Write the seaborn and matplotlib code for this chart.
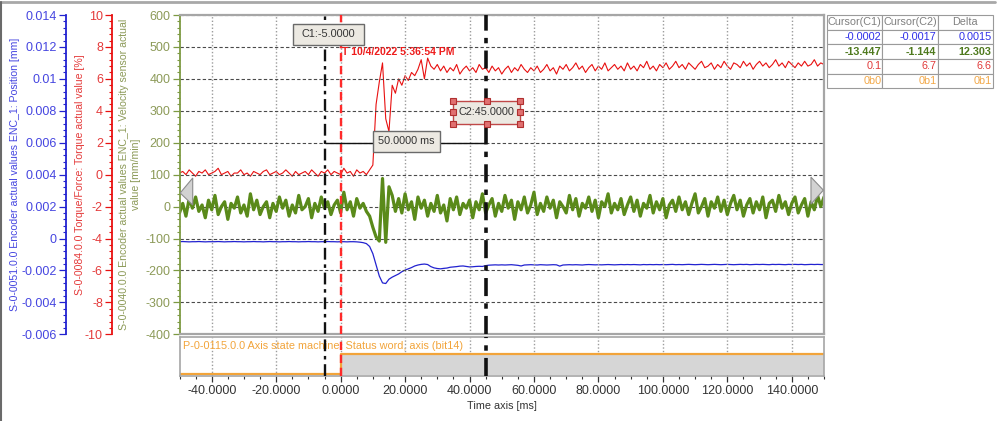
import numpy as np
import matplotlib
matplotlib.use("Agg")
import matplotlib.pyplot as plt
import seaborn as sns
from matplotlib.ticker import MultipleLocator, AutoMinorLocator, FuncFormatter
from matplotlib.patches import Polygon, Rectangle
from matplotlib.lines import Line2D

# recording, one sample per ms
time_ms = np.arange(-50, 151)

torque_pct = [
    0.1, 0.2, 0.0, 0.3, 0.1, -0.1, 0.2, 0.1, 0.3, 0.0,
    0.1, 0.2, 0.4, 0.0, 0.1, 0.2, -0.1, 0.1, 0.1, 0.3,
    0.0, 0.1, -0.1, 0.2, 0.1, 0.0, 0.2, 0.3, 0.0, 0.1,
    0.2, 0.0, 0.1, 0.3, 0.1, -0.1, 0.2, 0.0, 0.1, 0.2,
    0.0, 0.3, 0.1, -0.1, 0.2, 0.1, 0.3, 0.0, 0.2, 0.1,
    0.0, 0.4, 0.1, 0.2, -0.1, 0.3, 0.1, 0.2, 0.0, 0.3,
    0.6, 4.4, 5.8, 7.0, 3.5, 2.7, 5.6, 5.1, 6.0, 5.6,
    6.2, 5.9, 6.4, 6.2, 6.6, 7.2, 6.0, 7.3, 6.8, 6.6,
    6.9, 6.5, 6.8, 6.4, 6.7, 6.5, 6.9, 6.3, 6.6, 6.8,
    6.5, 6.7, 6.4, 6.9, 6.6, 6.7, 6.4, 6.8, 6.5, 6.7,
    6.3, 6.6, 6.8, 6.4, 6.7, 6.5, 6.9, 6.6, 6.4, 6.7,
    6.5, 6.8, 6.4, 6.6, 6.9, 6.5, 6.7, 6.3, 6.8, 6.6,
    6.9, 6.5, 6.7, 7.0, 6.6, 6.8, 6.4, 6.7, 6.9, 6.5,
    6.8, 6.6, 7.0, 6.5, 6.7, 6.9, 6.6, 6.8, 6.5, 7.0,
    6.6, 6.8, 6.5, 6.9, 6.7, 7.1, 6.6, 6.8, 6.5, 6.9,
    6.7, 7.0, 6.6, 6.8, 7.1, 6.7, 6.9, 6.6, 7.0, 6.8,
    6.6, 6.9, 7.1, 6.7, 6.8, 7.0, 6.6, 6.9, 6.7, 7.1,
    6.8, 6.6, 7.0, 6.9, 6.7, 7.1, 6.8, 7.0, 6.6, 6.9,
    7.1, 6.8, 7.0, 6.7, 6.9, 7.2, 6.8, 7.0, 6.7, 7.1,
    6.9, 6.7, 7.0, 6.8, 7.1, 6.8, 6.9, 7.2, 6.8, 7.0,
    6.9,
]

velocity = [
    -20, 10, -30, 25, -5, 30, -15, 5, -35, 20,
    -10, 35, -25, 0, 15, -40, 10, -5, 30, -20,
    5, -30, 40, -10, 20, -25, 0, 15, -35, 10,
    -15, 30, -5, 20, -30, 5, -20, 35, -10, 0,
    25, -35, 10, -15, 30, -5, 15, -25, 5, 20,
    -20, 45, -10, 15, -30, 25, -5, 10, -15, -30,
    -65, -95, -108, 88, -112, 62, 35, -15, 25, -20,
    40, -10, 15, -40, 30, -5, 20, -30, 10, -15,
    35, -20, 5, -45, 25, -10, 30, -25, 10, -5,
    20, -35, 15, -10, 40, -20, 5, 25, -30, 10,
    -15, 35, -5, 20, -40, 15, -10, 30, -20, 5,
    45, -25, 10, -15, 30, -5, 20, -35, 15, 0,
    -20, 35, -10, 25, -30, 10, -5, 30, -15, 20,
    -35, 15, 0, 40, -20, 10, -10, 25, -25, 5,
    30, -15, 20, -30, 10, -5, 35, -20, 15, -10,
    25, -35, 5, 20, -15, 30, -10, 15, -25, 10,
    40, -20, 0, 25, -30, 15, -5, 30, -15, 20,
    -25, 10, 35, -10, 20, -30, 5, 25, -20, 15,
    -10, 30, -35, 10, 20, -15, 35, -5, 15, -25,
    10, 30, -20, 5, 25, -30, 15, -10, 35, 0,
    30,
]

position_mm = [
    -0.00020, -0.00019, -0.00020, -0.00021, -0.00020, -0.00020, -0.00019, -0.00020, -0.00021, -0.00020,
    -0.00020, -0.00020, -0.00019, -0.00020, -0.00021, -0.00020, -0.00020, -0.00019, -0.00020, -0.00020,
    -0.00021, -0.00020, -0.00020, -0.00019, -0.00020, -0.00020, -0.00021, -0.00020, -0.00019, -0.00020,
    -0.00020, -0.00021, -0.00020, -0.00020, -0.00019, -0.00020, -0.00020, -0.00021, -0.00020, -0.00020,
    -0.00019, -0.00020, -0.00020, -0.00021, -0.00020, -0.00020, -0.00019, -0.00020, -0.00020, -0.00021,
    -0.00020, -0.00020, -0.00021, -0.00020, -0.00020, -0.00021, -0.00023, -0.00026, -0.00032, -0.00050,
    -0.00095, -0.00165, -0.00235, -0.00278, -0.00282, -0.00255, -0.00242, -0.00232, -0.00222, -0.00208,
    -0.00198, -0.00190, -0.00182, -0.00172, -0.00166, -0.00162, -0.00160, -0.00163, -0.00176, -0.00184,
    -0.00188, -0.00190, -0.00187, -0.00185, -0.00180, -0.00178, -0.00176, -0.00173, -0.00172, -0.00175,
    -0.00178, -0.00177, -0.00175, -0.00174, -0.00175, -0.00170, -0.00167, -0.00166, -0.00165, -0.00166,
    -0.00165, -0.00166, -0.00165, -0.00164, -0.00166, -0.00168, -0.00172, -0.00166, -0.00165, -0.00164,
    -0.00165, -0.00166, -0.00164, -0.00165, -0.00166, -0.00165, -0.00164, -0.00165, -0.00173, -0.00166,
    -0.00165, -0.00164, -0.00165, -0.00164, -0.00165, -0.00166, -0.00164, -0.00163, -0.00164, -0.00165,
    -0.00164, -0.00165, -0.00164, -0.00163, -0.00164, -0.00165, -0.00164, -0.00163, -0.00164, -0.00163,
    -0.00164, -0.00163, -0.00164, -0.00165, -0.00163, -0.00164, -0.00163, -0.00164, -0.00163, -0.00164,
    -0.00163, -0.00164, -0.00163, -0.00162, -0.00164, -0.00163, -0.00164, -0.00163, -0.00162, -0.00163,
    -0.00164, -0.00163, -0.00162, -0.00163, -0.00164, -0.00163, -0.00162, -0.00163, -0.00164, -0.00163,
    -0.00162, -0.00163, -0.00164, -0.00163, -0.00162, -0.00163, -0.00162, -0.00164, -0.00163, -0.00162,
    -0.00163, -0.00162, -0.00163, -0.00164, -0.00162, -0.00163, -0.00162, -0.00163, -0.00164, -0.00162,
    -0.00163, -0.00162, -0.00163, -0.00162, -0.00164, -0.00163, -0.00162, -0.00163, -0.00162, -0.00163,
    -0.00163,
]

status_t = [-50, 0, 150]
status_bit = [0, 1, 1]

cursor_c1 = -5.0
cursor_c2 = 45.0
trigger_t = 0.0
trigger_label = "T 10/4/2022 5:36:54 PM"

label_pos = "S-0-0051.0.0 Encoder actual values ENC_1: Position [mm]"
label_trq = "S-0-0084.0.0 Torque/Force: Torque actual value [%]"
label_vel = "S-0-0040.0.0 Encoder actual values ENC_1: Velocity sensor actual\nvalue [mm/min]"
label_status = "P-0-0115.0.0 Axis state machine: Status word, axis (bit14)"

table_cols = ["Cursor(C1)", "Cursor(C2)", "Delta"]
table_pos = ["-0.0002", "-0.0017", "0.0015"]
table_vel = ["-13.447", "-1.144", "12.303"]
table_trq = ["0.1", "6.7", "6.6"]
table_bit = ["0b0", "0b1", "0b1"]

BLUE, BLUE_TXT = "#2222d0", "#4545e0"
RED, RED_TXT = "#e81010", "#e43a3a"
GREEN, GREEN_TXT, GREEN_AX = "#5a8a1a", "#8c9a58", "#7d9a42"
ORANGE = "#f2a43a"
FRAME = "#a6a6a6"

sns.set_theme(style="white")
plt.rcParams["font.family"] = ["Liberation Sans", "DejaVu Sans"]
plt.rcParams["axes.unicode_minus"] = False

W, H = 999, 421
fig = plt.figure(figsize=(W / 100, H / 100), dpi=100)
ax = fig.add_axes([179.5 / W, 1 - 334.3 / H, 644.5 / W, 319.3 / H])
ax_s = fig.add_axes([179.5 / W, 1 - 375.5 / H, 644.5 / W, 38.5 / H], sharex=ax)
ax_r = ax.twinx()
ax_b = ax.twinx()
ax.set_zorder(ax_b.get_zorder() + 1)
ax.patch.set_visible(False)

sns.lineplot(x=time_ms, y=position_mm, ax=ax_b, color=BLUE, lw=0.9, legend=False)
sns.lineplot(x=time_ms, y=torque_pct, ax=ax_r, color=RED, lw=0.8, legend=False)
sns.lineplot(x=time_ms, y=velocity, ax=ax, color=GREEN, lw=2.3, legend=False)

ax.set_xlim(-50, 150)
ax.set_ylim(-400, 600)
ax_r.set_ylim(-10, 10)
ax_b.set_ylim(-0.006, 0.014)


def num(v, _):
    v = round(v, 6) + 0.0
    return f"{v:g}"


# y axes stacked on the left
for a, step, col, txt, pos in [(ax, 100, GREEN_AX, GREEN_TXT, None),
                               (ax_r, 2, RED, RED_TXT, -0.1047),
                               (ax_b, 0.002, BLUE, BLUE_TXT, -0.1761)]:
    a.yaxis.set_major_locator(MultipleLocator(step))
    a.yaxis.set_minor_locator(AutoMinorLocator(5))
    a.yaxis.set_major_formatter(FuncFormatter(num))
    a.yaxis.set_ticks_position("left")
    a.yaxis.set_label_position("left")
    a.tick_params(axis="y", which="major", left=True, right=False, length=5, width=0.9,
                  color=col, labelcolor=txt, labelsize=9, pad=1.5)
    a.tick_params(axis="y", which="minor", left=True, right=False, length=2.5, width=0.8, color=col)
    a.spines["left"].set_visible(True)
    a.spines["left"].set_color(col)
    a.spines["left"].set_linewidth(1.3)
    if pos is not None:
        a.spines["left"].set_position(("axes", pos))
        for s in ["right", "top", "bottom"]:
            a.spines[s].set_visible(False)

for s in ["right", "top", "bottom"]:
    ax.spines[s].set_color(FRAME)
    ax.spines[s].set_linewidth(1.6)
ax.tick_params(axis="x", which="both", bottom=False, labelbottom=False)

ax_b.set_ylabel(label_pos, color=BLUE_TXT, fontsize=7.6, va="center")
ax_b.yaxis.set_label_coords(-0.2552, 0.5)
ax_r.set_ylabel(label_trq, color=RED_TXT, fontsize=7.6, va="center")
ax_r.yaxis.set_label_coords(-0.1544, 0.5)
ax.set_ylabel(label_vel, color=GREEN_TXT, fontsize=7.6, va="center", ha="center",
              multialignment="center", linespacing=1.25)
ax.yaxis.set_label_coords(-0.0768, 0.5)

ax.grid(True, axis="y", which="major", color="#4a4a4a", ls=(0, (3, 2)), lw=0.8)
ax.grid(True, axis="x", which="major", color="#9c9c9c", ls=(0, (1, 1.5)), lw=1.0)

# status word strip
s_lo, s_hi = -0.075, 1.85
ax_s.set_ylim(s_lo, s_hi)
ax_s.fill_between(status_t, status_bit, s_lo, step="post", color="#d6d6d6", lw=0)
sns.lineplot(x=status_t, y=status_bit, ax=ax_s, drawstyle="steps-post", color=ORANGE,
             lw=1.6, legend=False)
ax_s.set_yticks([])
ax_s.grid(True, axis="x", which="major", color="#9c9c9c", ls=(0, (1, 1.5)), lw=1.0)
for s in ax_s.spines.values():
    s.set_color(FRAME)
    s.set_linewidth(1.2)
ax_s.xaxis.set_major_locator(MultipleLocator(20))
ax_s.xaxis.set_minor_locator(MultipleLocator(5))
ax_s.xaxis.set_major_formatter(FuncFormatter(lambda v, _: f"{v + 0.0:.4f}"))
ax_s.tick_params(axis="x", which="major", bottom=True, length=4, width=0.9, color="#333333",
                 labelsize=9, labelcolor="#333333", pad=3)
ax_s.tick_params(axis="x", which="minor", bottom=True, length=2.2, width=0.8, color="#333333")
ax_s.set_xlabel("Time axis [ms]", fontsize=7.8, color="#333333", labelpad=3)
ax_s.text(0.005, 0.76, label_status, transform=ax_s.transAxes, color=ORANGE,
          fontsize=7.8, ha="left", va="center")

# cursors
for a in (ax, ax_s):
    a.axvline(cursor_c1, color="#111111", lw=1.7, ls=(0, (5, 2, 1.5, 2)), zorder=4)
    a.axvline(trigger_t, color="#ff2a2a", lw=1.7, ls=(0, (3.5, 2)), zorder=4)
    a.axvline(cursor_c2, color="#111111", lw=2.6, ls=(0, (5, 2, 1.5, 2)), zorder=4)
ax.hlines(200, cursor_c1, cursor_c2, color="#111111", lw=1.0, zorder=4)

ax.text(trigger_t + 0.4, 484, trigger_label, color="#ee1c1c", fontsize=7.5,
        fontweight="bold", ha="left", va="center", zorder=6)


def label_box(x0, x1, y0, y1, text, ec="#6a6a6a"):
    ax.add_patch(Rectangle((x0, y0), x1 - x0, y1 - y0, fc="#ece9e2", ec=ec, lw=1.0, zorder=6))
    ax.text((x0 + x1) / 2, (y0 + y1) / 2, text, ha="center", va="center",
            fontsize=7.8, color="#333333", zorder=7)


label_box(-14.8, 7.3, 506, 572, f"C1:{cursor_c1:.4f}")
label_box(10.05, 30.85, 171, 237, f"{cursor_c2 - cursor_c1:.4f} ms")
label_box(34.9, 55.7, 259, 331, f"C2:{cursor_c2:.4f}", ec="#c04848")
hx = [34.9, 45.3, 55.7, 34.9, 55.7, 34.9, 45.3, 55.7]
hy = [331, 331, 331, 295, 295, 259, 259, 259]
ax.plot(hx, hy, ls="none", marker="s", ms=4, mfc="#e07070", mec="#b03030", mew=0.8, zorder=8)

# scroll markers at the plot edges
ax.add_patch(Polygon([(0.001, 0.4425), (0.0205, 0.4895), (0.0205, 0.405)], closed=True,
                     transform=ax.transAxes, fc="#d2d2d2", ec="#8c8c8c", lw=0.8, zorder=5))
ax.add_patch(Polygon([(0.999, 0.4515), (0.9798, 0.4922), (0.9798, 0.4077)], closed=True,
                     transform=ax.transAxes, fc="#d2d2d2", ec="#8c8c8c", lw=0.8, zorder=5))

# cursor value table
tax = fig.add_axes([827.3 / W, 1 - 88.3 / H, 165.4 / W, 73.3 / H])
tax.axis("off")
tbl = tax.table(cellText=[table_pos, table_vel, table_trq, table_bit], colLabels=table_cols,
                bbox=[0, 0, 1, 1], cellLoc="right", colLoc="center")
tbl.auto_set_font_size(False)
tbl.set_fontsize(7.8)
row_cols = ["#808080", "#2e2ee8", "#4f7a1e", "#e03a3a", "#f2a848"]
for (r, c), cell in tbl.get_celld().items():
    cell.set_edgecolor("#9a9a9a")
    cell.set_linewidth(0.8)
    cell.PAD = 0.02
    cell.get_text().set_color(row_cols[r])
    if r == 2:
        cell.get_text().set_fontweight("bold")

fig.add_artist(Line2D([0, 995 / W], [1 - 2 / H] * 2, color="#a8a8a8", lw=2))
fig.add_artist(Line2D([1 / W] * 2, [0, 1 - 2 / H], color="#6a6a6a", lw=1.5))

fig.savefig("out.png", dpi=100, facecolor="white")
